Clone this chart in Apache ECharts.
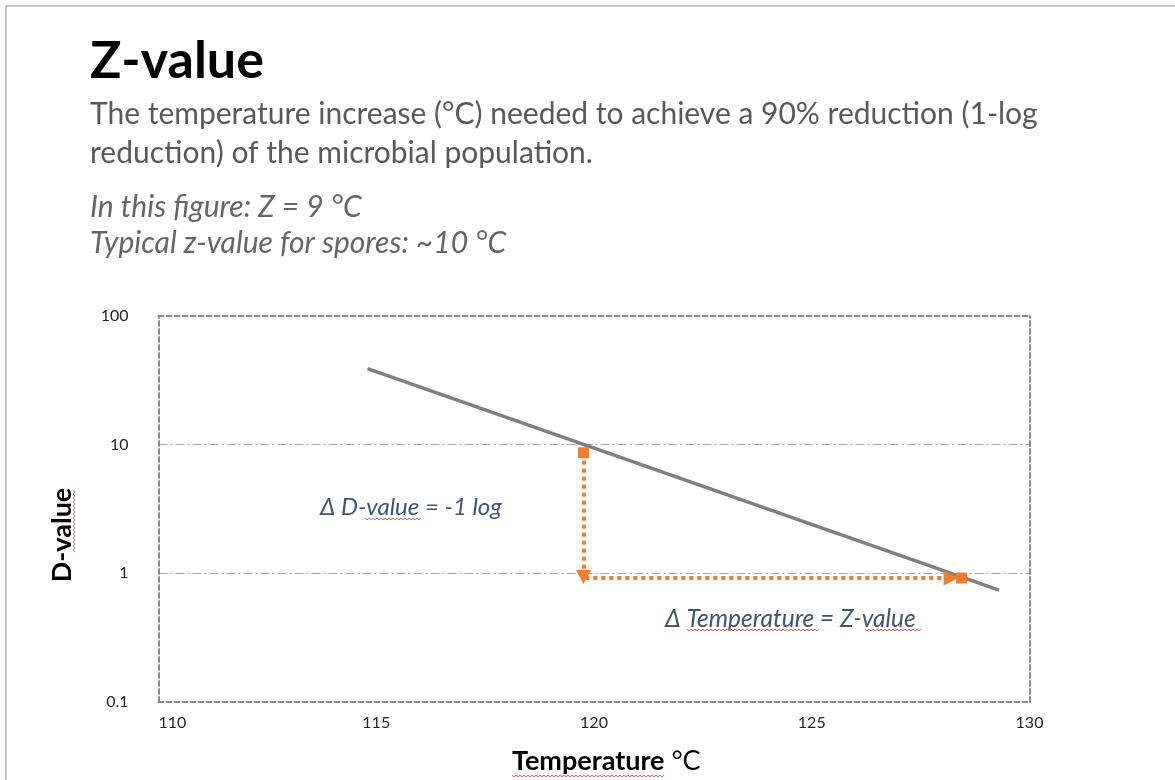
<!DOCTYPE html>
<html><head><meta charset="utf-8">
<script src="https://cdn.jsdelivr.net/npm/echarts@6/dist/echarts.min.js"></script>
<style>html,body{margin:0;padding:0;background:#fff}#c{width:1175px;height:780px}</style>
</head><body><div id="c"></div>
<script>
// ---- data ----
const xTicks = [110, 115, 120, 125, 130];
const yTicks = [0.1, 1, 10, 100];
const curveT = [114.8, 129.3];
const curveD = [39, 0.74];
const markerT = [119.76, 128.44];
const markerD = [8.66, 0.92];
const dropT = [119.76, 119.76];
const dropD = [8.66, 0.937];
const runT = [119.8, 128.2];
const runD = [0.92, 0.92];

const FONT = 'Lato';
const GRAY_LINE = '#7f7f7f';
const ORANGE = '#ed7d31';
const BORDER = { color: '#8c8c8c', width: 2, type: [5, 3] };

// spell-check style wavy underline (decoration)
function squiggle(x0, x1, y) {
  const pts = [];
  let up = true;
  for (let x = x0; x <= x1; x += 2) { pts.push([x, y + (up ? -1 : 1)]); up = !up; }
  return { type: 'polyline', silent: true, shape: { points: pts },
    style: { stroke: '#f06060', lineWidth: 1, fill: null } };
}
function vsquiggle(x, y0, y1) {
  const pts = [];
  let up = true;
  for (let y = y0; y <= y1; y += 2) { pts.push([x + (up ? -1 : 1), y]); up = !up; }
  return { type: 'polyline', silent: true, shape: { points: pts },
    style: { stroke: '#f06060', lineWidth: 1, fill: null } };
}

const chart = echarts.init(document.getElementById('c'), null, { renderer: 'canvas' });

const option = {
  animation: false,
  backgroundColor: '#fff',
  textStyle: { fontFamily: FONT },
  grid: { left: 158.5, top: 316, right: 145.5, bottom: 78, containLabel: false },
  xAxis: [
    {
      type: 'value', min: xTicks[0], max: xTicks[xTicks.length - 1], interval: 5, position: 'bottom',
      axisLine: { onZero: false, lineStyle: BORDER },
      axisTick: { show: false }, splitLine: { show: false },
      axisLabel: { margin: 13, fontSize: 16, color: '#262626', fontFamily: FONT, alignMinLabel: 'left' }
    },
    {
      type: 'value', min: xTicks[0], max: xTicks[xTicks.length - 1], position: 'top',
      axisLine: { onZero: false, lineStyle: BORDER },
      axisTick: { show: false }, splitLine: { show: false }, axisLabel: { show: false }
    }
  ],
  yAxis: [
    {
      type: 'log', logBase: 10, min: yTicks[0], max: yTicks[yTicks.length - 1], position: 'left',
      axisLine: { onZero: false, lineStyle: BORDER },
      axisTick: { show: false },
      splitLine: { show: true, showMinLine: false, showMaxLine: false,
        lineStyle: { color: '#a6a6a6', width: 1, type: [9, 3, 2, 3] } },
      axisLabel: { margin: 30, fontSize: 16, color: '#262626', fontFamily: FONT,
        formatter: v => { const t = yTicks.find(k => Math.abs(k - v) < 1e-9 * Math.max(1, k)); return t !== undefined ? String(t) : ''; } }
    },
    {
      type: 'log', logBase: 10, min: yTicks[0], max: yTicks[yTicks.length - 1], position: 'right',
      axisLine: { onZero: false, lineStyle: BORDER },
      axisTick: { show: false }, splitLine: { show: false }, axisLabel: { show: false }
    }
  ],
  series: [
    {
      type: 'line', xAxisIndex: 0, yAxisIndex: 0, z: 2, silent: true,
      data: curveT.map((t, i) => [t, curveD[i]]),
      showSymbol: false, symbol: 'none',
      lineStyle: { color: GRAY_LINE, width: 3.5 }
    },
    {
      type: 'line', xAxisIndex: 0, yAxisIndex: 0, z: 3, silent: true, data: [],
      markLine: {
        silent: true, animation: false,
        label: { show: false },
        lineStyle: { color: ORANGE, width: 4, type: [4, 4], cap: 'butt', opacity: 1 },
        emphasis: { disabled: true },
        data: [
          [ { coord: [dropT[0], dropD[0]], symbol: 'none' },
            { coord: [dropT[1], dropD[1]], symbol: 'triangle', symbolSize: [15, 14] } ],
          [ { coord: [runT[0], runD[0]], symbol: 'none' },
            { coord: [runT[1], runD[1]], symbol: 'triangle', symbolSize: [15, 15] } ]
        ]
      }
    },
    {
      type: 'scatter', xAxisIndex: 0, yAxisIndex: 0, z: 4, silent: true,
      symbol: 'rect', symbolSize: 11,
      itemStyle: { color: ORANGE, opacity: 1 },
      data: markerT.map((t, i) => [t, markerD[i]])
    }
  ],
  graphic: [
    { type: 'polyline', silent: true, shape: { points: [[6, 790], [6, 6], [1185, 6]] },
      style: { stroke: '#c6c6c6', lineWidth: 2, fill: null } },
    { type: 'text', left: 90, top: 35, silent: true,
      style: { text: 'Z-value', font: `bold 52px ${FONT}`, fill: '#000' } },
    { type: 'text', left: 90, top: 95, silent: true,
      style: { text: 'The temperature increase (°C) needed to achieve a 90% reduction (1-log\nreduction) of the microbial population.',
        font: `30px ${FONT}`, fill: '#595959', lineHeight: 39 } },
    { type: 'text', left: 90, top: 189, silent: true,
      style: { text: 'In this figure: Z = 9 °C\nTypical z-value for spores: ~10 °C',
        font: `italic 30px ${FONT}`, fill: '#666666', lineHeight: 36 } },
    { type: 'text', left: 320, top: 495, silent: true,
      style: { text: 'Δ D-value = -1 log', font: `italic 24px ${FONT}`, fill: '#44546a' } },
    { type: 'text', left: 665, top: 607, silent: true,
      style: { text: 'Δ Temperature = Z-value', font: `italic 24.5px ${FONT}`, fill: '#44546a' } },
    { type: 'text', x: 62, y: 535, rotation: Math.PI / 2, silent: true,
      style: { text: 'D-value', font: `bold 27px ${FONT}`, fill: '#000', align: 'center', verticalAlign: 'middle' } },
    { type: 'text', left: 512, top: 748, silent: true,
      style: { text: '{b|Temperature}{n| °C}',
        rich: { b: { font: `bold 27px ${FONT}`, fill: '#000' }, n: { font: `27px ${FONT}`, fill: '#000' } } } },
    squiggle(365, 422, 519),
    squiggle(687, 820, 630),
    squiggle(865, 922, 630),
    squiggle(512, 665, 776),
    vsquiggle(74, 490, 553)
  ]
};
chart.setOption(option);
</script>
</body></html>
